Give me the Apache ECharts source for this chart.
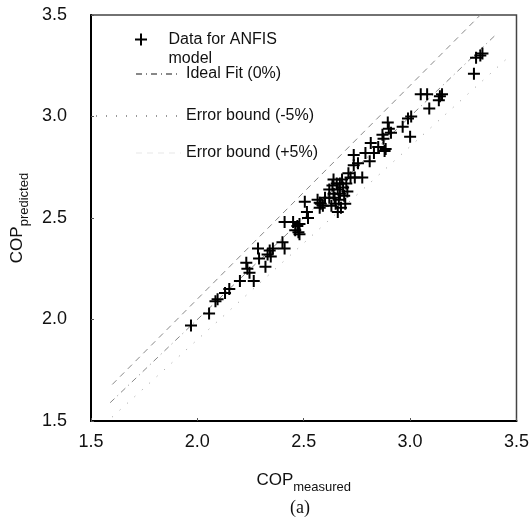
<!DOCTYPE html>
<html><head><meta charset="utf-8">
<script src="https://cdn.jsdelivr.net/npm/echarts@6/dist/echarts.min.js"></script>
<style>html,body{margin:0;padding:0;background:#fff}#c{width:532px;height:529px}</style>
</head><body><div id="c"></div>
<script>
// Measured COP (x) and ANFIS predicted COP (y)
const measured = [
  1.97, 2.055, 2.085, 2.095, 2.13, 2.15, 2.20, 2.23, 2.235, 2.245,
  2.265, 2.285, 2.29, 2.32, 2.33, 2.34, 2.355, 2.345, 2.40, 2.41,
  2.41, 2.45, 2.46, 2.47, 2.475, 2.48, 2.48, 2.505, 2.515, 2.52,
  2.565, 2.575, 2.58, 2.60, 2.62, 2.62, 2.635, 2.64, 2.645, 2.65,
  2.655, 2.66, 2.665, 2.67, 2.675, 2.68, 2.685, 2.69, 2.695, 2.70,
  2.705, 2.71, 2.72, 2.63, 2.66, 2.67, 2.64, 2.735, 2.735, 2.74,
  2.755, 2.775, 2.79, 2.81, 2.815, 2.83, 2.85, 2.87, 2.875, 2.88,
  2.885, 2.895, 2.90, 2.91, 2.965, 2.99, 3.00, 3.005, 3.05, 3.08,
  3.09, 3.135, 3.14, 3.15, 3.30, 3.31, 3.33, 3.34, 2.575, 2.59
];
const predicted = [
  1.97, 2.03, 2.09, 2.10, 2.13, 2.15, 2.19, 2.28, 2.25, 2.23,
  2.19, 2.35, 2.30, 2.26, 2.32, 2.34, 2.35, 2.31, 2.38, 2.35,
  2.48, 2.48, 2.44, 2.46, 2.43, 2.42, 2.47, 2.58, 2.53, 2.50,
  2.59, 2.55, 2.57, 2.60, 2.64, 2.60, 2.66, 2.62, 2.60, 2.57,
  2.67, 2.64, 2.59, 2.62, 2.55, 2.69, 2.65, 2.61, 2.57, 2.67,
  2.63, 2.72, 2.70, 2.56, 2.53, 2.67, 2.69, 2.76, 2.81, 2.70,
  2.77, 2.70, 2.82, 2.78, 2.87, 2.82, 2.85, 2.91, 2.89, 2.83,
  2.84, 2.97, 2.94, 2.92, 2.95, 2.99, 2.90, 3.00, 3.11, 3.11,
  3.04, 3.08, 3.10, 3.11, 3.21, 3.29, 3.30, 3.31, 2.575, 2.56
];
// Reference lines (end points)
const idealX = [1.59, 3.40], idealY = [1.59, 3.40];
const upperX = [1.60, 3.33], upperY = [1.68, 3.50];
const lowerX = [1.60, 3.46], lowerY = [1.52, 3.29];
const tickValues = [1.5, 2.0, 2.5, 3.0, 3.5];
const seriesNames = ['Data for ANFIS model', 'Ideal Fit (0%)', 'Error bound (-5%)', 'Error bound (+5%)'];

const zip = (a, b) => a.map((v, i) => [v, b[i]]);
const plus = 'path://M5,0H7V5H12V7H7V12H5V7H0V5H5Z';
const font = 'Liberation Sans, Arial, sans-serif';

const chart = echarts.init(document.getElementById('c'));
const axisCommon = {
  min: tickValues[0], max: tickValues[tickValues.length - 1], interval: 0.5,
  axisLine: { show: true, onZero: false, lineStyle: { color: '#000', width: 2 } },
  axisTick: { show: true, inside: true, length: 3, lineStyle: { color: '#555', width: 1 } },
  splitLine: { show: false },
  axisLabel: { color: '#111', fontSize: 18, fontFamily: font, formatter: v => v.toFixed(1) }
};
const nameRich = {
  m: { fontSize: 17, fontFamily: font, color: '#111', verticalAlign: 'top', lineHeight: 18 },
  s: { fontSize: 13, fontFamily: font, color: '#111', verticalAlign: 'top', lineHeight: 13, padding: [9, 0, 0, 0] }
};
const legendText = { color: '#111', fontSize: 16, fontFamily: font };
const hideSym = { color: 'rgba(0,0,0,0)', borderWidth: 0, opacity: 0 };
chart.setOption({
  animation: false,
  backgroundColor: '#fff',
  grid: { left: 91, right: 12, top: 15, bottom: 108, show: true, borderColor: '#444', borderWidth: 1.5 },
  xAxis: Object.assign({}, axisCommon, {
    type: 'value',
    axisLabel: Object.assign({}, axisCommon.axisLabel, { margin: 12 }),
    name: '{m|COP}{s|measured}', nameLocation: 'middle', nameGap: 51,
    nameTextStyle: { rich: nameRich }
  }),
  yAxis: Object.assign({}, axisCommon, {
    type: 'value',
    axisLabel: Object.assign({}, axisCommon.axisLabel, { margin: 24 }),
    name: '{m|COP}{s|predicted}', nameLocation: 'middle', nameGap: 48, nameRotate: 90,
    nameTextStyle: { rich: nameRich }
  }),
  legend: [
    { data: [seriesNames[0]], left: 135, top: 11, padding: 0, itemWidth: 45, itemHeight: 12,
      formatter: () => ' \nData for ANFIS\nmodel',
      textStyle: Object.assign({}, legendText, { lineHeight: 19 }) },
    { data: [seriesNames[1]], left: 135, top: 66, padding: 0, itemWidth: 45, itemHeight: 12, textStyle: legendText,
      itemStyle: hideSym },
    { data: [seriesNames[2]], left: 95, top: 108, padding: 0, itemWidth: 85, itemHeight: 12, textStyle: legendText,
      itemStyle: hideSym },
    { data: [seriesNames[3]], left: 135, top: 145, padding: 0, itemWidth: 45, itemHeight: 12, textStyle: legendText,
      itemStyle: hideSym, lineStyle: { opacity: 0.1 } }
  ],
  graphic: [
    { type: 'text', left: 290, top: 499, style: { text: '(a)', font: '18px "Liberation Serif", serif', fill: '#111' } }
  ],
  series: [
    { name: seriesNames[0], type: 'scatter', data: zip(measured, predicted), symbol: plus, symbolSize: 12,
      symbolKeepAspect: true, itemStyle: { color: '#000', opacity: 1 }, z: 5 },
    { name: seriesNames[1], type: 'line', data: zip(idealX, idealY), symbol: 'none',
      lineStyle: { color: '#888', width: 1, type: [6, 4, 1, 4] } },
    { name: seriesNames[2], type: 'line', data: zip(lowerX, lowerY), symbol: 'none',
      lineStyle: { color: '#999', width: 1, type: [1, 9] } },
    { name: seriesNames[3], type: 'line', data: zip(upperX, upperY), symbol: 'none',
      lineStyle: { color: '#888', width: 1, type: [6, 5] } }
  ]
});
</script>
</body></html>
